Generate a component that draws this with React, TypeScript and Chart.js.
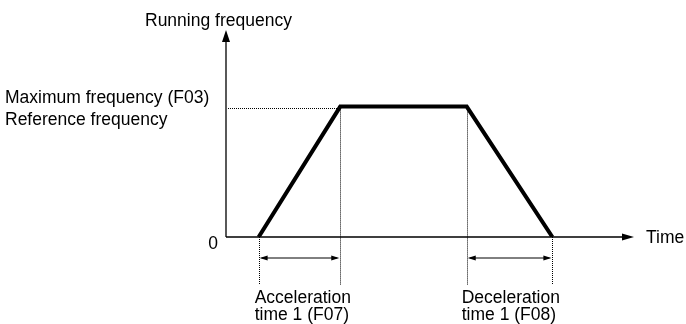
import React, { useEffect, useRef } from "react";
import { Chart, registerables } from "chart.js";

Chart.register(...registerables);

// Time points (arbitrary time units) and frequency (percent of max)
const timePoints = [8, 28, 59, 80];
const freqPoints = [0, 63, 63, 0];
const axisLabelY = "Running frequency";
const axisLabelX = "Time";
const levelLabels = ["Maximum frequency (F03)", "Reference frequency"];
const zeroLabel = "0";
const accelLabel = ["Acceleration", "time 1 (F07)"];
const decelLabel = ["Deceleration", "time 1 (F08)"];

const FONT = '17.5px "Liberation Sans", Arial, sans-serif';

function arrowHead(ctx: CanvasRenderingContext2D, x: number, y: number, dir: "up" | "right" | "left", len: number, half: number) {
  ctx.beginPath();
  if (dir === "up") {
    ctx.moveTo(x, y);
    ctx.lineTo(x - half, y + len);
    ctx.lineTo(x + half, y + len);
  } else if (dir === "right") {
    ctx.moveTo(x, y);
    ctx.lineTo(x - len, y - half);
    ctx.lineTo(x - len, y + half);
  } else {
    ctx.moveTo(x, y);
    ctx.lineTo(x + len, y - half);
    ctx.lineTo(x + len, y + half);
  }
  ctx.closePath();
  ctx.fill();
}

const diagramPlugin = {
  id: "diagram",
  beforeDatasetsDraw(chart: any) {
    const ctx: CanvasRenderingContext2D = chart.ctx;
    const xs = chart.scales.x;
    const ys = chart.scales.y;
    const area = chart.chartArea;
    const x0 = xs.getPixelForValue(0);
    const y0 = ys.getPixelForValue(0);
    const px = timePoints.map((t) => xs.getPixelForValue(t));
    const yMax = ys.getPixelForValue(freqPoints[1]);
    ctx.save();
    // dotted guides
    ctx.strokeStyle = "#000";
    ctx.lineWidth = 1;
    ctx.setLineDash([1, 1]);
    ctx.beginPath();
    ctx.moveTo(x0 + 2, Math.round(yMax) + 1.5);
    ctx.lineTo(px[1], Math.round(yMax) + 1.5);
    const bottom = y0 + 48;
    [0, 3].forEach((i) => {
      ctx.moveTo(Math.round(px[i]) + 0.5, y0);
      ctx.lineTo(Math.round(px[i]) + 0.5, bottom);
    });
    [1, 2].forEach((i) => {
      ctx.moveTo(Math.round(px[i]) + 0.5, yMax + 1);
      ctx.lineTo(Math.round(px[i]) + 0.5, bottom);
    });
    ctx.stroke();
    ctx.setLineDash([]);
    // axes
    ctx.lineWidth = 1.3;
    ctx.beginPath();
    ctx.moveTo(x0, y0);
    ctx.lineTo(x0, area.top + 8);
    ctx.moveTo(x0, y0);
    ctx.lineTo(area.right - 8, y0);
    ctx.stroke();
    ctx.fillStyle = "#000";
    arrowHead(ctx, x0, area.top, "up", 12, 4);
    arrowHead(ctx, area.right, y0, "right", 12, 3.5);
    // double arrows
    const ay = y0 + 21;
    ctx.lineWidth = 1;
    [[px[0], px[1]], [px[2], px[3]]].forEach(([a, b]) => {
      ctx.beginPath();
      ctx.moveTo(a + 3, ay);
      ctx.lineTo(b - 3, ay);
      ctx.stroke();
      arrowHead(ctx, a + 1, ay, "left", 8, 2.5);
      arrowHead(ctx, b - 1, ay, "right", 8, 2.5);
    });
    // texts
    ctx.font = FONT;
    ctx.fillStyle = "#000";
    ctx.textBaseline = "alphabetic";
    ctx.textAlign = "left";
    ctx.fillText(axisLabelY, 145, 26);
    ctx.fillText(levelLabels[0], 5, yMax - 4);
    ctx.fillText(levelLabels[1], 5, yMax + 18);
    ctx.fillText(axisLabelX, 646, y0 + 6);
    ctx.textAlign = "center";
    ctx.fillText(zeroLabel, x0 - 13, y0 + 12);
    ctx.textAlign = "left";
    ctx.fillText(accelLabel[0], px[0] - 4, y0 + 66);
    ctx.fillText(accelLabel[1], px[0] - 4, y0 + 83);
    ctx.fillText(decelLabel[0], px[2] - 5, y0 + 66);
    ctx.fillText(decelLabel[1], px[2] - 5, y0 + 83);
    ctx.restore();
  },
};

export default function App() {
  const ref = useRef<HTMLCanvasElement>(null);
  useEffect(() => {
    if (!ref.current) return;
    const chart = new Chart(ref.current, {
      type: "scatter",
      data: {
        datasets: [
          {
            data: timePoints.map((t, i) => ({ x: t, y: freqPoints[i] })),
            showLine: true,
            borderColor: "#000",
            borderWidth: 4,
            pointRadius: 0,
            borderJoinStyle: "miter",
            borderCapStyle: "butt",
            tension: 0,
          },
        ],
      },
      options: {
        animation: false,
        responsive: false,
        events: [],
        layout: { padding: { left: 226, right: 52, top: 30, bottom: 87 } },
        scales: {
          x: { type: "linear", min: 0, max: 100, display: false },
          y: { type: "linear", min: 0, max: 100, display: false },
        },
        plugins: { legend: { display: false }, tooltip: { enabled: false } },
      },
      plugins: [diagramPlugin],
    });
    return () => chart.destroy();
  }, []);
  return (
    <div style={{ position: "fixed", left: 0, top: 0, width: 686, height: 324, background: "#fff" }}>
      <canvas ref={ref} width={686} height={324} style={{ width: 686, height: 324, display: "block" }} />
    </div>
  );
}
